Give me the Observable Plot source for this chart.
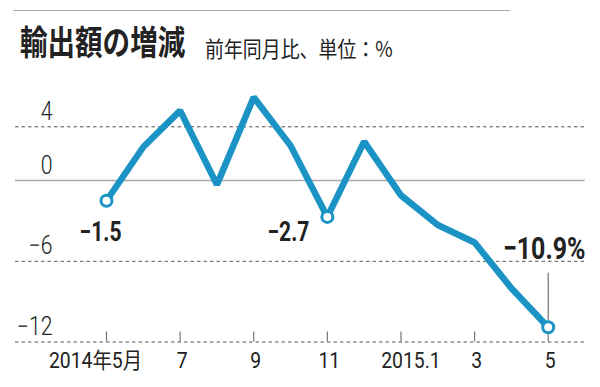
<!DOCTYPE html>
<html><head><meta charset="utf-8">
<script src="https://cdn.jsdelivr.net/npm/d3@7"></script>
<script src="https://cdn.jsdelivr.net/npm/@observablehq/plot@0.6"></script>
<style>
body{margin:0;background:#fff;}
#wrap{position:relative;width:600px;height:387px;overflow:hidden;font-family:"Noto Sans CJK JP",sans-serif;color:#222;}
#topline{position:absolute;left:13px;top:10px;width:497px;height:0;border-top:1.5px solid #aaa;}
#title{position:absolute;left:20px;top:24px;font-size:34px;line-height:1;font-weight:700;transform:scaleX(0.81);transform-origin:left top;white-space:nowrap;color:#222;}
#sub{position:absolute;left:205px;top:36px;font-size:22px;line-height:1;font-weight:400;transform:scaleX(0.86);transform-origin:left top;white-space:nowrap;color:#222;}
#chart{position:absolute;left:0;top:75px;}
</style></head>
<body>
<div id="wrap">
<div id="topline"></div>
<div id="title">輸出額の増減</div>
<div id="sub">前年同月比、単位：%</div>
<div id="chart"></div>
</div>
<script>
const monthIndex = [0,1,2,3,4,5,6,7,8,9,10,11,12];
const values = [-1.5, 2.5, 5.2, -0.3, 6.2, 2.6, -2.7, 2.9, -1.1, -3.3, -4.6, -8.0, -10.9];
const xTickPos = [0, 2, 4, 6, 8, 10, 12];
const xTickLabels = ["2014年5月", "7", "9", "11", "2015.1", "3", "5"];
const yTicks = [4, 0, -6, -12];
const labelIdx = [0, 6, 12];
const labelText = ["−1.5", "−2.7", "−10.9%"];

const data = monthIndex.map((m, i) => ({m, v: values[i]}));
const hl = labelIdx.map((k, j) => ({m: monthIndex[k], v: values[k], label: labelText[j]}));
const blue = "#1b93c5";
const digitFont = "Roboto,'Noto Sans CJK JP',sans-serif";
const fmtX = d => xTickLabels[xTickPos.indexOf(d)];
const xAxisStyle = {label: null, tickSize: 0, tickPadding: 10, tickFormat: fmtX, fontSize: 22, fill: "#222"};

const chart = Plot.plot({
  width: 600, height: 312,
  marginTop: 51.3, marginBottom: 45.5, marginLeft: 106, marginRight: 52.3,
  x: {domain: [0, 12], axis: null},
  y: {domain: [-12, 4], axis: null},
  style: {fontFamily: digitFont, background: "transparent", color: "#222", overflow: "visible"},
  marks: [
    Plot.ruleY(yTicks.filter(d => d !== 0), {stroke: "#555", strokeWidth: 1, strokeDasharray: "3.5,3", insetLeft: -91, insetRight: -37}),
    Plot.ruleY([0], {stroke: "#aaa", strokeWidth: 1.5, insetLeft: -91, insetRight: -37}),
    Plot.axisY({ticks: yTicks, label: null, tickSize: 0, tickPadding: 54, dy: -15, fontSize: 25, fill: "#222", fontWeight: 300, tickFormat: d => d < 0 ? "−" + Math.abs(d) : String(d)}),
    Plot.ruleX(xTickPos, {x: d => d, y1: -12, y2: -12, insetTop: -10, insetBottom: 0, stroke: "#777", strokeWidth: 1.2}),
    Plot.axisX({...xAxisStyle, ticks: xTickPos.slice(0, 1), dx: -11}),
    Plot.axisX({...xAxisStyle, ticks: [xTickPos[1], xTickPos[2], xTickPos[3], xTickPos[5], xTickPos[6]], dx: 2}),
    Plot.axisX({...xAxisStyle, ticks: xTickPos.slice(4, 5), dx: 10}),
    Plot.line(data, {x: "m", y: "v", stroke: blue, strokeWidth: 6.5, strokeLinejoin: "miter", strokeLinecap: "butt"}),
    Plot.ruleX(hl.slice(2), {x: "m", y1: "v", y2: "v", insetTop: -54, insetBottom: 6, stroke: "#555", strokeWidth: 1}),
    Plot.dot(hl, {x: "m", y: "v", r: 5.5, fill: "white", stroke: blue, strokeWidth: 3}),
    Plot.text(hl.slice(0, 1), {x: "m", y: "v", text: "label", dx: -6, dy: 32, fontSize: 27, fontWeight: 700, fill: "#222"}),
    Plot.text(hl.slice(1, 2), {x: "m", y: "v", text: "label", dx: -39, dy: 15, fontSize: 27, fontWeight: 700, fill: "#222"}),
    Plot.text(hl.slice(2, 3), {x: "m", y: "v", text: "label", dx: -4, dy: -78, fontSize: 32, fontWeight: 700, fill: "#222"})
  ]
});

function condense(root, selector, sx) {
  root.querySelectorAll(selector).forEach(t => {
    let tr = t.getAttribute("transform");
    if (!tr) {
      const x = t.getAttribute("x") || 0, y = t.getAttribute("y") || 0;
      t.removeAttribute("x"); t.removeAttribute("y");
      tr = `translate(${x},${y})`;
    }
    t.setAttribute("transform", tr + ` scale(${sx},1)`);
  });
}
condense(chart, 'g[aria-label="y-axis tick label"] text', 0.85);
condense(chart, 'g[aria-label="x-axis tick label"] text', 0.88);
condense(chart, 'g[aria-label="text"] text', 0.78);
document.getElementById("chart").appendChild(chart);
</script>
</body></html>
